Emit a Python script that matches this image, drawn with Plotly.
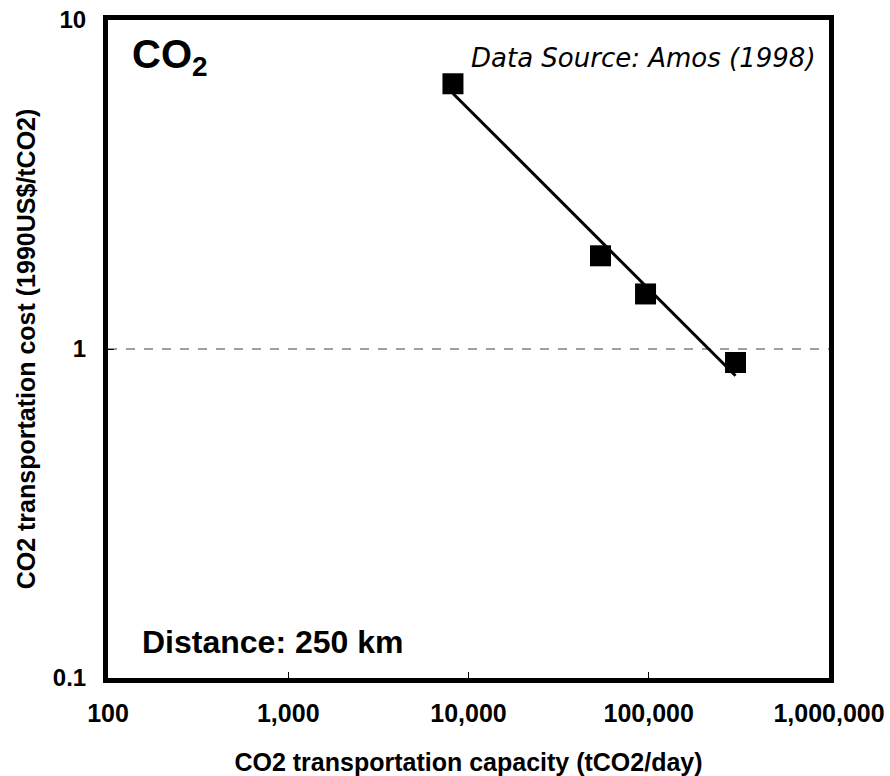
import numpy as np
import plotly.graph_objects as go

# Pipeline capacity (tCO2/day) and transport cost (1990 US$/tCO2), 250 km
capacity = [8200, 54000, 96000, 303000]
cost = [6.4, 1.92, 1.47, 0.91]

x_tickvals = [100, 1000, 10000, 100000, 1000000]
x_ticktext = ["100", "1,000", "10,000", "100,000", "1,000,000"]
y_tickvals = [0.1, 1, 10]
y_ticktext = ["0.1", "1", "10"]

# Power-law trendline fitted in log-log space
lx, ly = np.log10(capacity), np.log10(cost)
slope, intercept = np.polyfit(lx, ly, 1)
fit_x = np.array([capacity[0], capacity[-1]])
fit_y = 10 ** (intercept + slope * np.log10(fit_x))

FONT = "Liberation Sans, Arial, sans-serif"

fig = go.Figure()
fig.add_trace(go.Scatter(x=fit_x, y=fit_y, mode="lines",
                         line=dict(color="black", width=3), hoverinfo="skip"))
fig.add_trace(go.Scatter(x=capacity, y=cost, mode="markers",
                         marker=dict(symbol="square", size=21, color="black",
                                     line=dict(width=0))))

# Reference line at cost = 1
fig.add_shape(type="line", xref="paper", x0=0, x1=1, yref="y", y0=1, y1=1,
              line=dict(color="#808080", width=1.5, dash="dash"), layer="below")

fig.add_annotation(xref="paper", yref="paper", x=0.031, y=0.944, xanchor="left",
                   yanchor="middle", showarrow=False,
                   text="<b>CO<sub>2</sub></b>",
                   font=dict(family=FONT, size=40, color="black"))
fig.add_annotation(xref="paper", yref="paper", x=0.985, y=0.942, xanchor="right",
                   yanchor="middle", showarrow=False,
                   text="<i>Data Source: Amos (1998)</i>",
                   font=dict(family="DejaVu Sans, Verdana, sans-serif", size=26,
                             color="black"))
fig.add_annotation(xref="paper", yref="paper", x=0.045, y=0.055, xanchor="left",
                   yanchor="middle", showarrow=False,
                   text="<b>Distance: 250 km</b>",
                   font=dict(family=FONT, size=32, color="black"))

fig.update_layout(
    width=890, height=776,
    margin=dict(l=108, r=61, t=20, b=98),
    paper_bgcolor="white", plot_bgcolor="white",
    showlegend=False,
    font=dict(family=FONT, color="black"),
)
fig.update_xaxes(
    type="log", range=[2, 6], automargin=False,
    tickvals=x_tickvals, ticktext=x_ticktext,
    ticks="inside", ticklen=6, tickwidth=1, tickcolor="black",
    ticklabelstandoff=9,
    tickfont=dict(family=FONT, size=25, weight="bold"),
    showgrid=False, zeroline=False,
    showline=True, linewidth=5, linecolor="black", mirror=True,
    title=dict(text="CO2 transportation capacity (tCO2/day)", standoff=30,
               font=dict(family=FONT, size=25, weight="bold")),
)
fig.update_yaxes(
    type="log", range=[-1, 1], automargin=False,
    tickvals=y_tickvals, ticktext=y_ticktext,
    ticks="inside", ticklen=6, tickwidth=1, tickcolor="black",
    ticklabelstandoff=12,
    tickfont=dict(family=FONT, size=24, weight="bold"),
    showgrid=False, zeroline=False,
    showline=True, linewidth=5, linecolor="black", mirror=True,
    title=dict(text="CO2 transportation cost (1990US$/tCO2)", standoff=12,
               font=dict(family=FONT, size=25, weight="bold")),
)

fig.write_html("out.html")
